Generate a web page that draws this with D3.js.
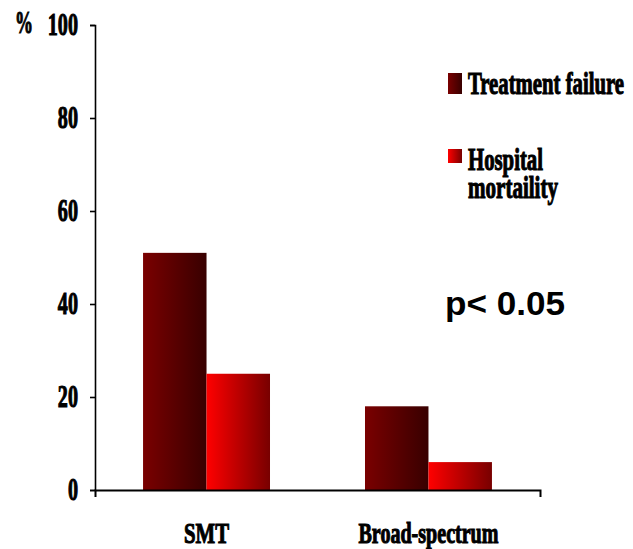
<!DOCTYPE html>
<html>
<head>
<meta charset="utf-8">
<script src="https://cdn.jsdelivr.net/npm/d3@7"></script>
<style>
  body { margin: 0; background: #fff; }
  svg { display: block; }
  .serif { font-family: "Liberation Serif", "Times New Roman", serif; font-weight: bold; fill: #000; stroke: #000; stroke-width: 1.1px; }
</style>
</head>
<body>
<svg id="chart" width="633" height="549"></svg>
<script>
// chart data
var categories = ["SMT", "Broad-spectrum"];
var seriesNames = ["Treatment failure", "Hospital mortaility"];
var treatmentFailure = [51, 18];
var hospitalMortality = [25, 6];
var yTicks = [0, 20, 40, 60, 80, 100];

var svg = d3.select("#chart");

// gradients for the bars
var defs = svg.append("defs");
function addGrad(id, c1, c2) {
	var g = defs.append("linearGradient").attr("id", id)
		.attr("x1", "0%").attr("x2", "100%").attr("y1", "0%").attr("y2", "0%");
	g.append("stop").attr("offset", "0%").attr("stop-color", c1);
	g.append("stop").attr("offset", "100%").attr("stop-color", c2);
}
addGrad("gradDark", "#7a0000", "#380000");
addGrad("gradRed", "#ff0000", "#780000");
var fills = ["url(#gradDark)", "url(#gradRed)"];

var y = d3.scaleLinear().domain([0, 100]).range([490, 25]);
var x0 = d3.scaleBand().domain(categories).range([95, 540])
	.paddingInner(0.428).paddingOuter(0.2165);
var x1 = d3.scaleBand().domain(seriesNames).range([0, x0.bandwidth()]);

var rows = categories.map(function(c, i) {
	return { cat: c, vals: [treatmentFailure[i], hospitalMortality[i]] };
});

// bars
var groups = svg.append("g").selectAll("g")
	.data(rows).enter().append("g")
	.attr("transform", d => "translate(" + x0(d.cat) + ",0)");

groups.selectAll("rect")
	.data(d => d.vals.map((v, j) => ({ s: seriesNames[j], v: v, j: j })))
	.enter().append("rect")
	.attr("x", d => x1(d.s))
	.attr("y", d => y(d.v))
	.attr("width", x1.bandwidth())
	.attr("height", d => y(0) - y(d.v))
	.attr("fill", d => fills[d.j]);

// y axis
var gy = svg.append("g")
	.attr("transform", "translate(95,0)")
	.call(d3.axisLeft(y).tickValues(yTicks).tickSizeInner(5).tickSizeOuter(5));
gy.select(".domain").attr("stroke", "#000").attr("stroke-width", 1.6);
gy.selectAll(".tick line").attr("stroke", "#000").attr("stroke-width", 1.6);
gy.selectAll(".tick text")
	.attr("class", "serif")
	.style("font-size", "31px")
	.attr("x", -17 / 0.65)
	.attr("dy", "0.3em")
	.attr("text-anchor", "end")
	.attr("transform", "scale(0.65,1)");

svg.append("text").attr("class", "serif")
	.attr("x", 15).attr("y", 33)
	.style("font-size", "31px")
	.attr("textLength", 18).attr("lengthAdjust", "spacingAndGlyphs")
	.text("%");

// x axis
var gx = svg.append("g")
	.attr("transform", "translate(0,490)")
	.call(d3.axisBottom(x0).tickSizeInner(0).tickSizeOuter(7));
gx.select(".domain").attr("stroke", "#000").attr("stroke-width", 2);
gx.selectAll(".tick text")
	.attr("class", "serif")
	.style("font-size", "29px")
	.attr("y", 53).attr("dy", 0)
	.attr("textLength", d => d === "SMT" ? 45 : 140)
	.attr("lengthAdjust", "spacingAndGlyphs");

// legend
var legend = svg.append("g");
legend.append("rect").attr("x", 448).attr("y", 73).attr("width", 14).attr("height", 21)
	.attr("fill", fills[0]);
legend.append("rect").attr("x", 448).attr("y", 149).attr("width", 14).attr("height", 14)
	.attr("fill", fills[1]);

legend.append("text").attr("class", "serif")
	.attr("x", 468).attr("y", 94)
	.style("font-size", "31px")
	.attr("textLength", 156).attr("lengthAdjust", "spacingAndGlyphs")
	.text(seriesNames[0]);
legend.append("text").attr("class", "serif")
	.attr("x", 468).attr("y", 170)
	.style("font-size", "31px")
	.attr("textLength", 75).attr("lengthAdjust", "spacingAndGlyphs")
	.text("Hospital");
legend.append("text").attr("class", "serif")
	.attr("x", 468).attr("y", 198)
	.style("font-size", "31px")
	.attr("textLength", 90).attr("lengthAdjust", "spacingAndGlyphs")
	.text("mortaility");

// significance note
svg.append("text")
	.attr("x", 445).attr("y", 315)
	.style("font-family", "'Liberation Sans', Arial, sans-serif")
	.style("font-weight", "bold")
	.style("font-size", "34px")
	.attr("textLength", 120).attr("lengthAdjust", "spacingAndGlyphs")
	.text("p< 0.05");
</script>
</body>
</html>
